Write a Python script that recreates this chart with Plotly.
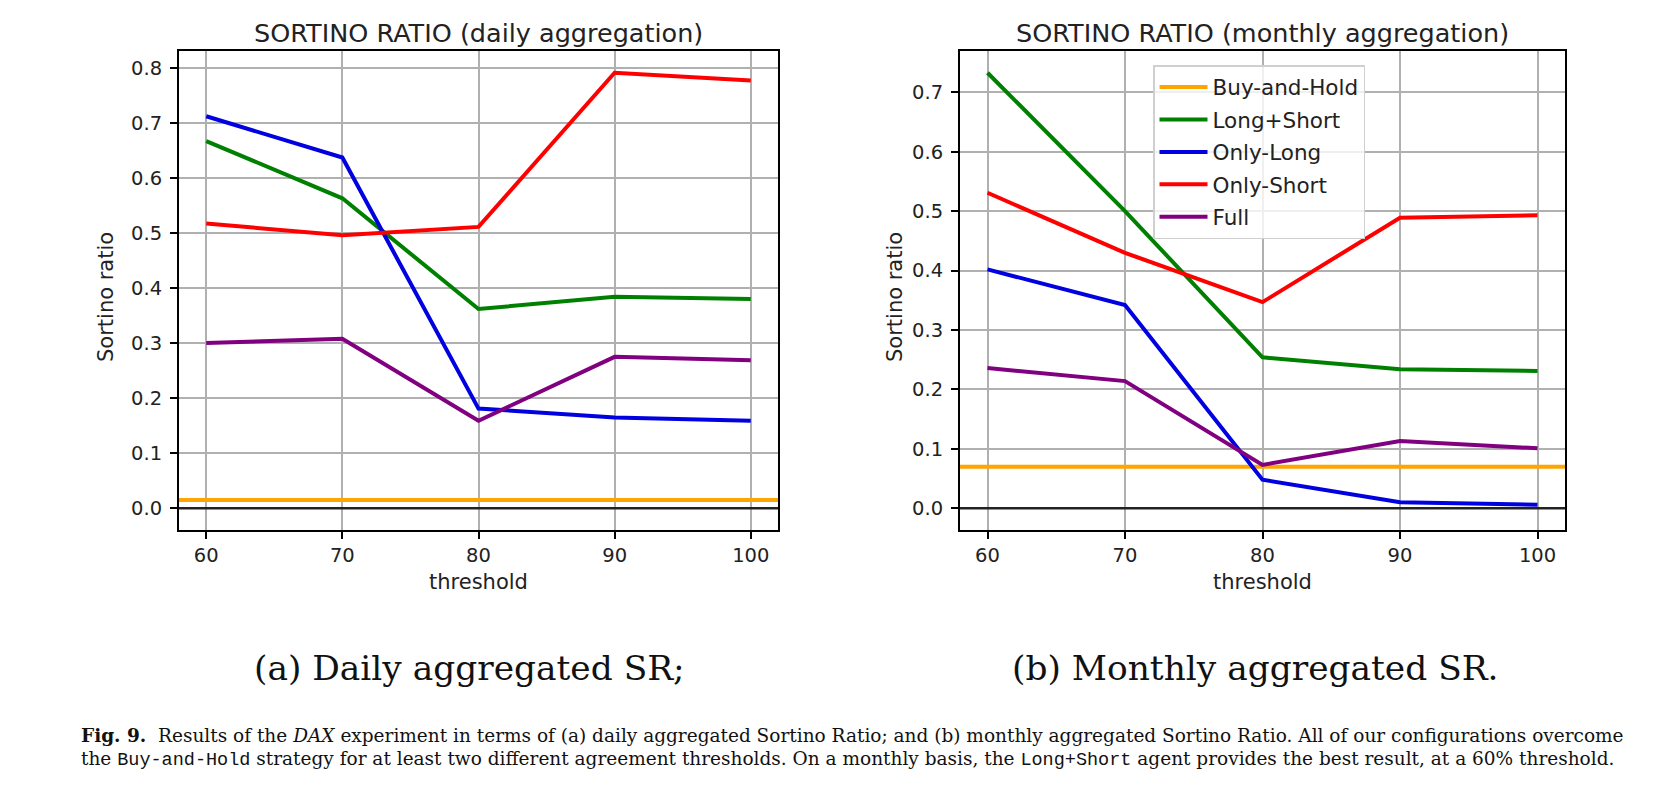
import plotly.graph_objects as go

# ---------------- data ----------------
THRESHOLDS = [60, 70, 80, 90, 100]
X_TICKS = [60, 70, 80, 90, 100]

DAILY_LONG_SHORT = [0.667, 0.563, 0.362, 0.384, 0.380]
DAILY_ONLY_LONG = [0.712, 0.637, 0.181, 0.165, 0.159]
DAILY_ONLY_SHORT = [0.517, 0.496, 0.511, 0.791, 0.777]
DAILY_FULL = [0.300, 0.308, 0.159, 0.275, 0.269]
DAILY_BUY_HOLD = 0.015

MONTHLY_LONG_SHORT = [0.733, 0.500, 0.254, 0.234, 0.231]
MONTHLY_ONLY_LONG = [0.402, 0.342, 0.048, 0.010, 0.006]
MONTHLY_ONLY_SHORT = [0.531, 0.430, 0.347, 0.489, 0.493]
MONTHLY_FULL = [0.236, 0.214, 0.073, 0.113, 0.101]
MONTHLY_BUY_HOLD = 0.070

ZERO = 0.0

SERIES_NAMES = ["Long+Short", "Only-Long", "Only-Short", "Full"]
SERIES_COLORS = ["#008000", "#0000e0", "#ff0000", "#800080"]
BH_NAME = "Buy-and-Hold"
BH_COLOR = "#ffa500"

TITLES = ["SORTINO RATIO (daily aggregation)", "SORTINO RATIO (monthly aggregation)"]
XLABEL = "threshold"
YLABEL = "Sortino ratio"
SUBCAPTIONS = ["(a) Daily aggregated SR;", "(b) Monthly aggregated SR."]
MONO = "font-family:'Liberation Mono', 'DejaVu Sans Mono', monospace"
CAPTION_1 = ("<b>Fig. 9.</b>  Results of the <i>DAX</i> experiment in terms of (a) daily aggregated "
             "Sortino Ratio; and (b) monthly aggregated Sortino Ratio. All of our configurations overcome")
CAPTION_2 = ("the <span style=\"" + MONO + "\">Buy-and-Hold</span> strategy for at least two different "
             "agreement thresholds. On a monthly basis, the <span style=\"" + MONO + "\">Long+Short</span> "
             "agent provides the best result, at a 60% threshold.")

# ---------------- layout geometry (page pixels, 1657x786 window) ----------------
PAGE_W, PAGE_H = 1657, 786
OFF = 8  # default body margin of the html page
W, H = PAGE_W - 2 * OFF, PAGE_H - 2 * OFF
PANELS = [
    dict(x0=179, x1=778),
    dict(x0=960, x1=1565),
]
Y_TOP, Y_BOT = 51, 530
LINE_W = 4


def px_x(p):
    return (p - OFF) / W


def px_y(p):
    return 1 - (p - OFF) / H


def auto_range(values, margin=0.05):
    lo, hi = min(values), max(values)
    span = hi - lo
    return [lo - margin * span, hi + margin * span]


fig = go.Figure()

datasets = [
    ([DAILY_LONG_SHORT, DAILY_ONLY_LONG, DAILY_ONLY_SHORT, DAILY_FULL], DAILY_BUY_HOLD),
    ([MONTHLY_LONG_SHORT, MONTHLY_ONLY_LONG, MONTHLY_ONLY_SHORT, MONTHLY_FULL], MONTHLY_BUY_HOLD),
]

FONT = "DejaVu Sans"
TICK_FONT = dict(family=FONT, size=19.5, color="#222222")

for i, (series, bh) in enumerate(datasets):
    xa = "x" if i == 0 else "x2"
    ya = "y" if i == 0 else "y2"
    all_vals = [v for s in series for v in s] + [bh, ZERO]
    yr = auto_range(all_vals)
    xr = auto_range(THRESHOLDS)

    # zero reference line spanning the whole axis
    fig.add_trace(go.Scatter(x=xr, y=[ZERO, ZERO], mode="lines", showlegend=False,
                             line=dict(color="#222222", width=2.5), xaxis=xa, yaxis=ya,
                             hoverinfo="skip", cliponaxis=False))
    # Buy-and-Hold constant line spanning the whole axis
    fig.add_trace(go.Scatter(x=xr, y=[bh, bh], mode="lines", name=BH_NAME,
                             line=dict(color=BH_COLOR, width=LINE_W), xaxis=xa, yaxis=ya,
                             showlegend=(i == 1), legendgroup=BH_NAME, cliponaxis=False))
    for name, vals, col in zip(SERIES_NAMES, series, SERIES_COLORS):
        fig.add_trace(go.Scatter(
            x=THRESHOLDS, y=vals, mode="lines", name=name,
            line=dict(color=col, width=LINE_W),
            xaxis=xa, yaxis=ya, showlegend=(i == 1), legendgroup=name,
        ))

    p = PANELS[i]
    axis_common = dict(
        showline=True, linecolor="black", linewidth=2, mirror=True,
        ticks="outside", ticklen=7, tickwidth=1.5, tickcolor="black",
        showgrid=True, gridcolor="#b0b0b0", gridwidth=1.5,
        zeroline=False, tickfont=TICK_FONT,
    )
    fig.update_layout(**{
        ("xaxis" if i == 0 else "xaxis2"): dict(
            domain=[px_x(p["x0"]), px_x(p["x1"])], range=xr, anchor=ya,
            tickvals=X_TICKS, **axis_common),
        ("yaxis" if i == 0 else "yaxis2"): dict(
            domain=[px_y(Y_BOT), px_y(Y_TOP)], range=yr, anchor=xa,
            dtick=0.1, tick0=0, tickformat=".1f", ticklabelstandoff=4, **axis_common),
    })

annotations = []
centers = [(p["x0"] + p["x1"]) / 2 for p in PANELS]
ylabel_x = [106, 895]
sub_x = [469, 1255]
for i in range(2):
    annotations.append(dict(text=TITLES[i], x=px_x(centers[i]), y=px_y(33), xref="paper", yref="paper",
                            showarrow=False, xanchor="center", yanchor="middle",
                            font=dict(family=FONT, size=25.5, color="#222222")))
    annotations.append(dict(text=XLABEL, x=px_x(centers[i]), y=px_y(582), xref="paper", yref="paper",
                            showarrow=False, xanchor="center", yanchor="middle",
                            font=dict(family=FONT, size=21, color="#222222")))
    annotations.append(dict(text=YLABEL, x=px_x(ylabel_x[i]), y=px_y(297),
                            xref="paper", yref="paper", textangle=-90,
                            showarrow=False, xanchor="center", yanchor="middle",
                            font=dict(family=FONT, size=21, color="#222222")))
    annotations.append(dict(text=SUBCAPTIONS[i], x=px_x(sub_x[i]), y=px_y(668), xref="paper", yref="paper",
                            showarrow=False, xanchor="center", yanchor="middle",
                            font=dict(family="DejaVu Serif", size=34.4, color="#111111")))

annotations.append(dict(text=CAPTION_1, x=px_x(79), y=px_y(735), xref="paper", yref="paper",
                        showarrow=False, xanchor="left", yanchor="middle",
                        font=dict(family="DejaVu Serif", size=18.5, color="#111111")))
annotations.append(dict(text=CAPTION_2, x=px_x(79), y=px_y(759), xref="paper", yref="paper",
                        showarrow=False, xanchor="left", yanchor="middle",
                        font=dict(family="DejaVu Serif", size=18.5, color="#111111")))

fig.update_layout(
    width=W, height=H, autosize=False,
    margin=dict(l=0, r=0, t=0, b=0),
    paper_bgcolor="white", plot_bgcolor="white",
    annotations=annotations,
    showlegend=True,
    legend=dict(
        x=px_x(1153), y=px_y(65), xanchor="left", yanchor="top",
        bgcolor="rgba(255,255,255,0.8)", bordercolor="#d0d0d0", borderwidth=1.5,
        font=dict(family=FONT, size=21.5, color="#222222"),
        itemwidth=48, tracegroupgap=1.5, traceorder="grouped",
    ),
)

fig.write_html("out.html")
